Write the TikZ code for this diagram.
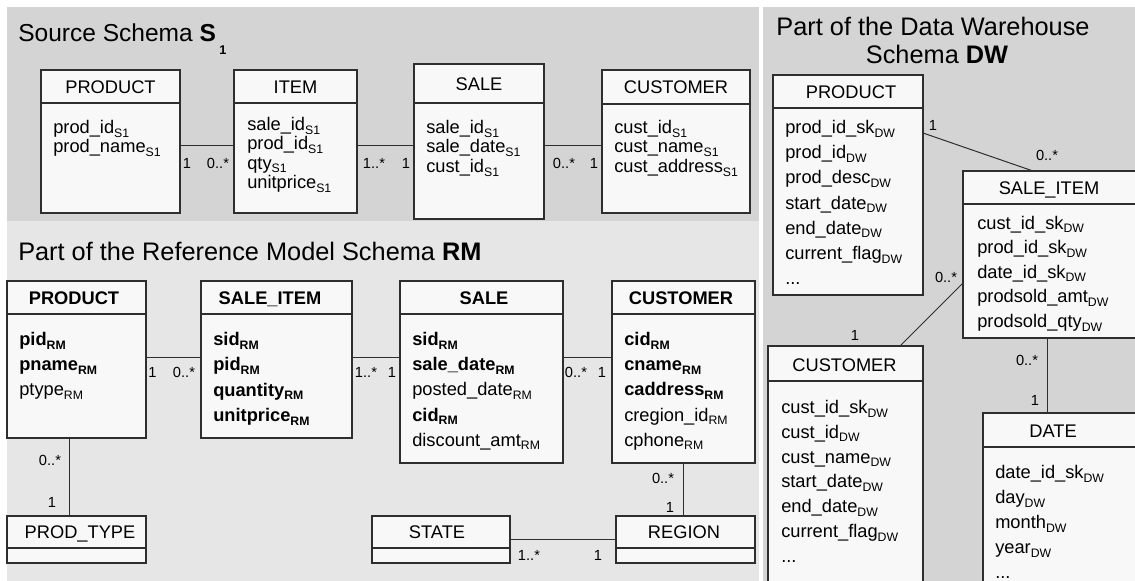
\documentclass[tikz,border=0pt]{standalone}
\usepackage{fontspec}
\setmainfont{Liberation Sans}
\definecolor{panelD}{HTML}{D4D4D4}
\definecolor{panelL}{HTML}{E6E6E6}
\definecolor{boxfill}{HTML}{F8F8F8}
\definecolor{ink}{HTML}{2E2E2E}
\newcommand\threedots{...}
\newcommand\lowsub[1]{\raisebox{-2.7pt}{\fontsize{9.2}{10}\selectfont #1}}
\newcommand\umlbox[6]{%
  \node[umlrect, minimum width={(#4-#2)*0.75pt}, minimum height={(#5-#3)*0.75pt}] (#1) at ({(#2+#4)/2},{(#3+#5)/2}) {};
  \draw[hline] (#1.west |- 0,#6) -- (#1.east |- 0,#6);
}
\newcommand\attrs[5]{%
  \foreach \myitem [count=\myi] in {#5}{\node[attr] (#1-\myi) at (#2,{#3+(\myi-1)*#4}) {\myitem};}%
}
\begin{document}
\begin{tikzpicture}[x=0.75pt,y=-0.75pt,
  umlrect/.style={rectangle, draw=ink, line width=1.1pt, fill=boxfill, inner sep=0pt, outer sep=0pt},
  hline/.style={draw=ink, line width=0.8pt},
  conn/.style={draw=ink, line width=0.75pt},
  hdr/.style={anchor=base, inner sep=0pt, font=\fontsize{13.7}{16}\selectfont},
  hdrb/.style={anchor=base, inner sep=0pt, font=\fontsize{13.7}{16}\selectfont\bfseries},
  attr/.style={anchor=base west, inner sep=0pt, font=\fontsize{13.7}{16}\selectfont},
  mult/.style={inner sep=0pt, font=\fontsize{11}{12}\selectfont},
  ttl/.style={inner sep=0pt, font=\fontsize{19}{22}\selectfont}]
\useasboundingbox (0,0) rectangle (1135,581);
\clip (0,0) rectangle (1135,581);
% panels
\fill[panelD] (7,7) rectangle (759,221);
\fill[panelL] (7,221) rectangle (759,581);
\fill[panelD] (763,7) rectangle (1135,581);
% titles
\node[ttl, anchor=base west, font=\fontsize{18.4}{22}\selectfont] (t1) at (18,42) {Source Schema \textbf{S}\kern2.5pt\raisebox{-9.5pt}{\fontsize{9.5}{10}\selectfont\textbf{1}}};
\node[ttl, anchor=base west] (t2) at (18,260) {Part of the Reference Model Schema \textbf{RM}};
\node[ttl, anchor=base] (t3a) at (933,36) {Part of the Data Warehouse};
\node[ttl, anchor=base] (t3b) at (937,64) {Schema \textbf{DW}};
% ---------- Source schema S1
\umlbox{P1}{41}{70}{180}{213}{103}
\umlbox{I1}{234}{70}{357}{213}{103}
\umlbox{SA1}{414}{64}{544}{219}{103}
\umlbox{C1}{602}{70}{750}{213}{104}
\node[hdr] (P1h) at (110.5,93.1) {PRODUCT};
\node[hdr] (I1h) at (295.5,93.1) {ITEM};
\node[hdr] (SA1h) at (479,90.1) {SALE};
\node[hdr] (C1h) at (676,93.6) {CUSTOMER};
\attrs{P1a}{53}{133.5}{19.5}{{prod\_id\lowsub{S1}},{prod\_name\lowsub{S1}}}
\attrs{I1a}{247}{130.5}{19.4}{{sale\_id\lowsub{S1}},{prod\_id\lowsub{S1}},{qty\lowsub{S1}},{unitprice\lowsub{S1}}}
\attrs{SA1a}{426}{133.5}{19.5}{{sale\_id\lowsub{S1}},{sale\_date\lowsub{S1}},{cust\_id\lowsub{S1}}}
\attrs{C1a}{614}{133.5}{19.5}{{cust\_id\lowsub{S1}},{cust\_name\lowsub{S1}},{cust\_address\lowsub{S1}}}
\draw[conn] (P1.east |- 0,146) -- (I1.west |- 0,146);
\draw[conn] (I1.east |- 0,146) -- (SA1.west |- 0,146);
\draw[conn] (SA1.east |- 0,146) -- (C1.west |- 0,146);
\node[mult] (m1) at (187,163) {1};
\node[mult] (m2) at (218,163) {0..*};
\node[mult] (m3) at (374,163) {1..*};
\node[mult] (m4) at (406,163) {1};
\node[mult] (m5) at (564,163) {0..*};
\node[mult] (m6) at (594,163) {1};
% ---------- Reference model RM
\umlbox{P2}{7}{281}{146}{438}{314}
\umlbox{SI2}{201}{281}{352}{438}{314}
\umlbox{S2}{400}{281}{563}{463}{314}
\umlbox{C2}{612}{281}{755}{463}{314}
\umlbox{PT2}{7}{516}{146}{563}{548}
\umlbox{ST2}{372}{516}{510}{563}{548}
\umlbox{R2}{616}{516}{755}{563}{548}
\node[hdrb] (P2h) at (74,304.1) {PRODUCT};
\node[hdrb] (SI2h) at (270,304.1) {SALE\_ITEM};
\node[hdrb] (S2h) at (484,304.1) {SALE};
\node[hdrb] (C2h) at (681,304.1) {CUSTOMER};
\node[hdr] (PT2h) at (80,538.6) {PROD\_TYPE};
\node[hdr] (ST2h) at (437,538.6) {STATE};
\node[hdr] (R2h) at (684,538.6) {REGION};
\attrs{P2a}{19}{345.5}{25}{{\textbf{pid\lowsub{RM}}},{\textbf{pname\lowsub{RM}}},{ptype\lowsub{RM}}}
\attrs{SI2a}{213}{345.5}{25.3}{{\textbf{sid\lowsub{RM}}},{\textbf{pid\lowsub{RM}}},{\textbf{quantity\lowsub{RM}}},{\textbf{unitprice\lowsub{RM}}}}
\attrs{S2a}{412}{345.5}{25.2}{{\textbf{sid\lowsub{RM}}},{\textbf{sale\_date\lowsub{RM}}},{posted\_date\lowsub{RM}},{\textbf{cid\lowsub{RM}}},{discount\_amt\lowsub{RM}}}
\attrs{C2a}{624}{345.5}{25.2}{{\textbf{cid\lowsub{RM}}},{\textbf{cname\lowsub{RM}}},{\textbf{caddress\lowsub{RM}}},{cregion\_id\lowsub{RM}},{cphone\lowsub{RM}}}
\draw[conn] (P2.east |- 0,357) -- (SI2.west |- 0,357);
\draw[conn] (SI2.east |- 0,357) -- (S2.west |- 0,357);
\draw[conn] (S2.east |- 0,357) -- (C2.west |- 0,357);
\draw[conn] (P2.south -| 69,0) -- (PT2.north -| 69,0);
\draw[conn] (C2.south -| 683,0) -- (R2.north -| 683,0);
\draw[conn] (ST2.east |- 0,539) -- (R2.west |- 0,539);
\node[mult] (m7) at (152.5,372) {1};
\node[mult] (m8) at (184,372) {0..*};
\node[mult] (m9) at (366,372) {1..*};
\node[mult] (m10) at (392,372) {1};
\node[mult] (m11) at (576,372) {0..*};
\node[mult] (m12) at (602,372) {1};
\node[mult] (m13) at (50,460) {0..*};
\node[mult] (m14) at (52,502) {1};
\node[mult] (m15) at (663,478) {0..*};
\node[mult] (m16) at (670,507) {1};
\node[mult] (m17) at (529,555) {1..*};
\node[mult] (m18) at (598,555) {1};
% ---------- Data warehouse DW
\umlbox{P3}{773}{75}{923}{295}{108}
\umlbox{SI3}{963}{171}{1140}{338}{204}
\umlbox{C3}{768}{346}{923}{600}{381}
\umlbox{D3}{983}{413}{1140}{600}{447}
\node[hdr] (P3h) at (851,98.1) {PRODUCT};
\node[hdr] (SI3h) at (1049,194.1) {SALE\_ITEM};
\node[hdr] (C3h) at (844.5,371) {CUSTOMER};
\node[hdr] (D3h) at (1053,437.5) {DATE};
\attrs{P3a}{785}{133.5}{25.2}{{prod\_id\_sk\lowsub{DW}},{prod\_id\lowsub{DW}},{prod\_desc\lowsub{DW}},{start\_date\lowsub{DW}},{end\_date\lowsub{DW}},{current\_flag\lowsub{DW}},{\threedots}}
\attrs{SI3a}{977}{229}{24.6}{{cust\_id\_sk\lowsub{DW}},{prod\_id\_sk\lowsub{DW}},{date\_id\_sk\lowsub{DW}},{prodsold\_amt\lowsub{DW}},{prodsold\_qty\lowsub{DW}}}
\attrs{C3a}{781}{413.5}{24.8}{{cust\_id\_sk\lowsub{DW}},{cust\_id\lowsub{DW}},{cust\_name\lowsub{DW}},{start\_date\lowsub{DW}},{end\_date\lowsub{DW}},{current\_flag\lowsub{DW}},{\threedots}}
\attrs{D3a}{995}{478.5}{25}{{date\_id\_sk\lowsub{DW}},{day\lowsub{DW}},{month\lowsub{DW}},{year\lowsub{DW}},{\threedots}}
\draw[conn] (P3.east |- 0,133) -- (SI3.north -| 1033,0);
\draw[conn] (SI3.west |- 0,283) -- (C3.north -| 900,0);
\draw[conn] (SI3.south -| 1047,0) -- (D3.north -| 1047,0);
\node[mult] (m19) at (933,125) {1};
\node[mult] (m20) at (1047,155) {0..*};
\node[mult] (m21) at (946,277) {0..*};
\node[mult] (m22) at (855,335) {1};
\node[mult] (m23) at (1027,360) {0..*};
\node[mult] (m24) at (1035,400) {1};
\end{tikzpicture}
\end{document}
